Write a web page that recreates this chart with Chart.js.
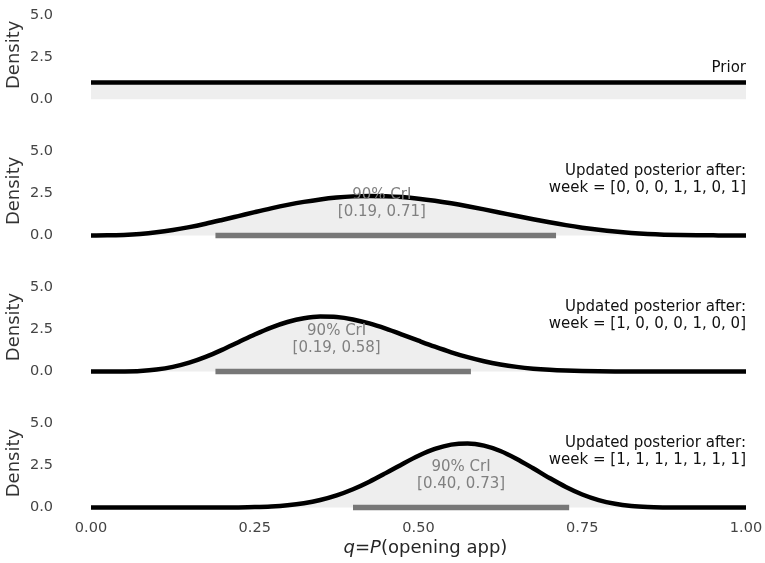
<!DOCTYPE html>
<html><head><meta charset="utf-8">
<script src="https://cdn.jsdelivr.net/npm/chart.js@4.4.0/dist/chart.umd.min.js"></script>
<style>
html,body{margin:0;padding:0;background:#fff;}
#wrap{position:relative;width:765px;height:563px;overflow:hidden;background:#fff;}
#wrap canvas{position:absolute;left:0;}
</style></head><body>
<div id="wrap">
<canvas id="c0" width="765" height="136" style="top:0px"></canvas>
<canvas id="c1" width="765" height="136" style="top:136px"></canvas>
<canvas id="c2" width="765" height="136" style="top:272px"></canvas>
<canvas id="c3" width="765" height="155" style="top:408px"></canvas>
</div>
<script>
// ---- data ----
const xGrid = [0, 0.025, 0.05, 0.075, 0.1, 0.125, 0.15, 0.175, 0.2, 0.225, 0.25, 0.275, 0.3, 0.325, 0.35, 0.375, 0.4, 0.425, 0.45, 0.475, 0.5, 0.525, 0.55, 0.575, 0.6, 0.625, 0.65, 0.675, 0.7, 0.725, 0.75, 0.775, 0.8, 0.825, 0.85, 0.875, 0.9, 0.925, 0.95, 0.975, 1];
const priorX = [0, 1];
const priorDensity = [1, 1];
const post1Density = [0, 0.004, 0.029, 0.087, 0.184, 0.321, 0.493, 0.695, 0.918, 1.150, 1.384, 1.609, 1.815, 1.996, 2.143, 2.253, 2.323, 2.350, 2.335, 2.280, 2.188, 2.063, 1.910, 1.736, 1.548, 1.352, 1.154, 0.961, 0.778, 0.610, 0.461, 0.334, 0.229, 0.147, 0.087, 0.046, 0.020, 0.007, 0.002, 0.000, 0];
const post2Density = [0, 0.000, 0.006, 0.035, 0.116, 0.276, 0.528, 0.872, 1.290, 1.746, 2.202, 2.613, 2.945, 3.169, 3.267, 3.241, 3.099, 2.860, 2.552, 2.201, 1.833, 1.475, 1.144, 0.854, 0.612, 0.420, 0.275, 0.170, 0.099, 0.054, 0.027, 0.012, 0.005, 0.002, 0.001, 0, 0, 0, 0, 0, 0];
const post3Density = [0, 0, 0, 0, 0, 0, 0.000, 0.001, 0.004, 0.011, 0.029, 0.067, 0.139, 0.261, 0.453, 0.728, 1.093, 1.542, 2.053, 2.585, 3.083, 3.489, 3.750, 3.821, 3.690, 3.371, 2.899, 2.341, 1.762, 1.226, 0.781, 0.448, 0.228, 0.099, 0.035, 0.010, 0.002, 0, 0, 0, 0];
const panelLabels = ['Prior', 'Updated posterior after:', 'Updated posterior after:', 'Updated posterior after:'];
const weekLabels = ['', 'week = [0, 0, 0, 1, 1, 0, 1]', 'week = [1, 0, 0, 0, 1, 0, 0]', 'week = [1, 1, 1, 1, 1, 1, 1]'];
const ciLow = [null, 0.19, 0.19, 0.40];
const ciHigh = [null, 0.71, 0.58, 0.73];
const postMean = [null, 0.444, 0.375, 0.565];
const yTicks = [0, 2.5, 5];
const xTicks = [0, 0.25, 0.5, 0.75, 1];
const yTitle = 'Density';

// ---- drawing ----
Chart.defaults.font.family = "'DejaVu Sans', sans-serif";
const FONT = "'DejaVu Sans', sans-serif";

const curves = [
  {x: priorX, y: priorDensity},
  {x: xGrid, y: post1Density},
  {x: xGrid, y: post2Density},
  {x: xGrid, y: post3Density}
];

function makePanel(i) {
  const canvas = document.getElementById('c' + i);
  const H = canvas.height;
  const isLast = i === 3;
  const zero = 99.3 + 0.1 * i;
  const unit = 16.8;
  const yMin = -0.3, yMax = 5.6;
  const top = zero - yMax * unit;
  const bottom = zero - yMin * unit;

  const datasets = [];
  if (ciLow[i] !== null) {
    datasets.push({
      data: [{x: ciLow[i], y: 0}, {x: ciHigh[i], y: 0}],
      borderColor: '#777777', borderWidth: 5.5, borderCapStyle: 'butt',
      pointRadius: 0, fill: false, order: 0, tension: 0
    });
  }
  const c = curves[i];
  datasets.push({
    data: c.x.map((x, k) => ({x: x, y: c.y[k]})),
    borderColor: '#000000', borderWidth: 4.5, borderCapStyle: 'butt', borderJoinStyle: 'round',
    backgroundColor: '#eeeeee', fill: 'origin',
    pointRadius: 0, cubicInterpolationMode: 'monotone', order: 1
  });

  const textPlugin = {
    id: 'annot' + i,
    afterDraw(chart) {
      const ctx = chart.ctx;
      const xs = chart.scales.x, ys = chart.scales.y;
      const z = ys.getPixelForValue(0);
      const right = xs.getPixelForValue(1);
      ctx.save();
      ctx.textBaseline = 'alphabetic';
      ctx.font = '15px ' + FONT;
      ctx.fillStyle = '#111111';
      ctx.textAlign = 'right';
      if (i === 0) {
        ctx.fillText(panelLabels[i], right, z - 27);
      } else {
        ctx.fillText(panelLabels[i], right, z - 60.5);
        ctx.fillText(weekLabels[i], right, z - 43.5);
        ctx.fillStyle = '#808080';
        ctx.textAlign = 'center';
        const mx = xs.getPixelForValue(postMean[i]);
        ctx.fillText('90% CrI', mx, z - 36.5);
        ctx.fillText('[' + ciLow[i].toFixed(2) + ', ' + ciHigh[i].toFixed(2) + ']', mx, z - 19.5);
      }
      if (isLast) {
        const parts = [
          {t: 'q', f: 'italic 18px ' + FONT},
          {t: '=', f: '18px ' + FONT},
          {t: 'P', f: 'italic 18px ' + FONT},
          {t: '(opening app)', f: '18px ' + FONT}
        ];
        let w = 0;
        parts.forEach(p => { ctx.font = p.f; p.w = ctx.measureText(p.t).width; w += p.w; });
        const cx = (xs.getPixelForValue(0) + xs.getPixelForValue(1)) / 2 + 7;
        let x = cx - w / 2;
        ctx.fillStyle = '#262626';
        ctx.textAlign = 'left';
        parts.forEach(p => { ctx.font = p.f; ctx.fillText(p.t, x, 145); x += p.w; });
      }
      ctx.restore();
    }
  };

  return new Chart(canvas, {
    type: 'line',
    data: {datasets: datasets},
    options: {
      responsive: false,
      animation: false,
      devicePixelRatio: 1,
      layout: {padding: {left: 0, right: 19, top: top, bottom: isLast ? 0 : H - bottom}},
      plugins: {legend: {display: false}, tooltip: {enabled: false}},
      scales: {
        x: {
          type: 'linear', min: 0, max: 1, display: isLast,
          grid: {display: false, drawTicks: false}, border: {display: false},
          afterBuildTicks: s => { s.ticks = xTicks.map(v => ({value: v})); },
          afterFit: s => {
            if (isLast) { s.height = H - bottom; }
            s.paddingLeft = 0; s.paddingRight = 0;
          },
          ticks: {padding: 7, color: '#444444', font: {size: 14.5}, maxRotation: 0,
                  callback: v => Number(v).toFixed(2)}
        },
        y: {
          type: 'linear', min: yMin, max: yMax,
          grid: {display: false, drawTicks: false}, border: {display: false},
          afterBuildTicks: s => { s.ticks = yTicks.map(v => ({value: v})); },
          afterFit: s => { s.width = 91; s.paddingTop = 0; s.paddingBottom = 0; },
          ticks: {padding: 38, color: '#444444', font: {size: 14.5},
                  callback: v => Number(v).toFixed(1)},
          title: {display: true, text: yTitle, color: '#333333', font: {size: 18}, padding: {top: 4, bottom: 0}}
        }
      }
    },
    plugins: [textPlugin]
  });
}

for (let i = 0; i < 4; i++) makePanel(i);
</script>
</body></html>
